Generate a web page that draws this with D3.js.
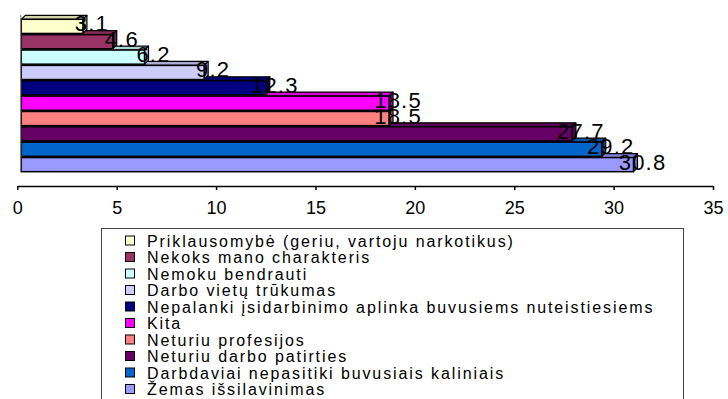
<!DOCTYPE html>
<html>
<head>
<meta charset="utf-8">
<script src="https://cdn.jsdelivr.net/npm/d3@7"></script>
<style>
  body { margin: 0; background: #fff; }
  svg { display: block; }
  text { font-family: "Liberation Sans", Arial, sans-serif; fill: #000; }
</style>
</head>
<body>
<svg id="chart" width="728" height="399"></svg>
<script>
// Reasons given, ordered from the smallest share to the largest
const categories = [
  "Priklausomybė (geriu, vartoju narkotikus)",
  "Nekoks mano charakteris",
  "Nemoku bendrauti",
  "Darbo vietų trūkumas",
  "Nepalanki įsidarbinimo aplinka buvusiems nuteistiesiems",
  "Kita",
  "Neturiu profesijos",
  "Neturiu darbo patirties",
  "Darbdaviai nepasitiki buvusiais kaliniais",
  "Žemas išsilavinimas"
];
const values = [3.1, 4.6, 6.2, 9.2, 12.3, 18.5, 18.5, 27.7, 29.2, 30.8];
const colors = [
  "#FFFFCC", "#993366", "#CCFFFF", "#CCCCFF", "#000080",
  "#FF00FF", "#FF8080", "#660066", "#0066CC", "#9999FF"
];
const tickValues = [0, 5, 10, 15, 20, 25, 30, 35];

const rows = categories.map((c, i) => ({ name: c, value: values[i], color: colors[i] }));

const svg = d3.select("#chart");

const x = d3.scaleLinear().domain([0, 35]).range([17.3, 713]);
const y = d3.scaleBand().domain(categories).range([19, 172]).paddingInner(0.08).paddingOuter(0.02);

// 3-D extrusion: faces recede up and to the right
const dx = 4, dy = -4;
const barShift = 4; // bars sit slightly behind the front edge of the floor

const bars = svg.append("g").attr("class", "bars");

// draw from the bottom bar upward so upper bars overlap the top faces beneath
rows.slice().reverse().forEach(d => {
  const x0 = x(0) + barShift;
  const x1 = x(d.value) + barShift;
  const y0 = y(d.name);
  const y1 = y0 + y.bandwidth();
  const base = d3.color(d.color);
  const g = bars.append("g");
  // top face
  g.append("path")
    .attr("d", `M${x0},${y0}L${x0 + dx},${y0 + dy}L${x1 + dx},${y0 + dy}L${x1},${y0}Z`)
    .attr("fill", base.darker(0.5))
    .attr("stroke", "#000").attr("stroke-width", 1.2).attr("stroke-linejoin", "round");
  // end face
  g.append("path")
    .attr("d", `M${x1},${y0}L${x1 + dx},${y0 + dy}L${x1 + dx},${y1 + dy}L${x1},${y1}Z`)
    .attr("fill", base.darker(0.8))
    .attr("stroke", "#000").attr("stroke-width", 1.2).attr("stroke-linejoin", "round");
  // front face
  g.append("rect")
    .attr("x", x0).attr("y", y0)
    .attr("width", x1 - x0).attr("height", y1 - y0)
    .attr("fill", d.color)
    .attr("stroke", "#000").attr("stroke-width", 1.5);
});

// left wall edge
svg.append("line")
  .attr("x1", x(0) + barShift - 0.5).attr("x2", x(0) + barShift - 0.5)
  .attr("y1", y.range()[0] - 4).attr("y2", y.range()[1])
  .attr("stroke", "#777").attr("stroke-width", 1);

// value labels
svg.append("g").selectAll("text")
  .data(rows)
  .join("text")
  .attr("x", d => x(d.value) + barShift + 9)
  .attr("y", d => y(d.name) + y.bandwidth() / 2 + 5)
  .attr("text-anchor", "middle")
  .attr("font-size", 22)
  .attr("letter-spacing", 1.2)
  .text(d => d.value.toFixed(1));

// value axis
const axis = svg.append("g")
  .attr("transform", "translate(0,186)")
  .call(d3.axisBottom(x).tickValues(tickValues).tickSize(4).tickSizeOuter(0).tickPadding(11));
axis.select(".domain").attr("stroke", "#000").attr("stroke-width", 1.5);
axis.selectAll(".tick line").attr("stroke", "#000").attr("stroke-width", 1.5);
axis.selectAll(".tick text")
  .attr("font-size", 18)
  .attr("font-family", "\"Liberation Sans\", Arial, sans-serif")
  .attr("fill", "#000");

// legend
const legend = svg.append("g").attr("class", "legend");
legend.append("rect")
  .attr("x", 101.5).attr("y", 228.5)
  .attr("width", 582).attr("height", 200)
  .attr("fill", "#fff")
  .attr("stroke", "#444").attr("stroke-width", 1);

const ly = d3.scaleLinear().domain([0, 1]).range([246.5, 263]);
const items = legend.selectAll("g.item")
  .data(rows)
  .join("g")
  .attr("class", "item")
  .attr("transform", (d, i) => `translate(0,${ly(i)})`);
items.append("rect")
  .attr("x", 125.5).attr("y", -10.5)
  .attr("width", 9).attr("height", 9)
  .attr("fill", d => d.color)
  .attr("stroke", "#000").attr("stroke-width", 1);
items.append("text")
  .attr("x", 147).attr("y", 0)
  .attr("font-size", 16)
  .attr("letter-spacing", 1.9)
  .text(d => d.name);
</script>
</body>
</html>
